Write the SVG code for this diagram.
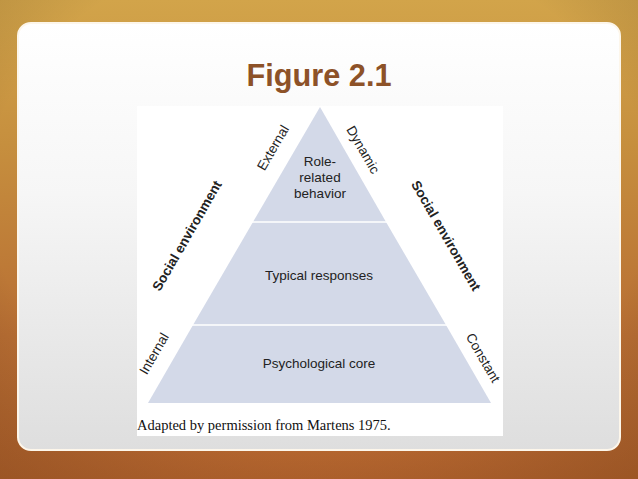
<svg xmlns="http://www.w3.org/2000/svg" width="638" height="479" viewBox="0 0 638 479">
<defs>
<linearGradient id="bg" x1="0" y1="0" x2="0" y2="1">
<stop offset="0" stop-color="#d2a44a"/>
<stop offset="0.3" stop-color="#c68f3e"/>
<stop offset="0.7" stop-color="#b86e33"/>
<stop offset="1" stop-color="#b6652e"/>
</linearGradient>
<radialGradient id="vig" cx="0.5" cy="0.4" r="0.8">
<stop offset="0.65" stop-color="#000" stop-opacity="0"/>
<stop offset="1" stop-color="#3a1a00" stop-opacity="0.22"/>
</radialGradient>
<linearGradient id="panel" x1="0" y1="0" x2="0" y2="1">
<stop offset="0" stop-color="#ffffff"/>
<stop offset="0.4" stop-color="#f6f6f6"/>
<stop offset="1" stop-color="#dedede"/>
</linearGradient>
<style>
.lbl{font-family:"Liberation Sans",Arial,sans-serif;font-size:13.5px;fill:#222;text-anchor:middle}
.bold{font-weight:bold}
.div{stroke:#ffffff;stroke-width:1.5}
</style>
</defs>
<rect width="638" height="479" fill="url(#bg)"/>
<rect width="638" height="479" fill="url(#vig)"/>
<rect x="18" y="23" width="602" height="427" rx="13" fill="url(#panel)" stroke="#fdf6ea" stroke-width="2"/>
<text x="319" y="86" font-family="Liberation Sans,Arial,sans-serif" font-size="32" font-weight="bold" fill="#8d5228" text-anchor="middle" textLength="145" lengthAdjust="spacingAndGlyphs">Figure 2.1</text>
<rect x="137" y="106" width="366" height="330" fill="#ffffff"/>
<g id="pyramid">
<g id="top"><polygon points="320,107 253,222 386,222" fill="#d3d9e8"/></g>
<g id="middle"><polygon points="253,222 386,222 446,325 193,325" fill="#d3d9e8"/></g>
<g id="bottom"><polygon points="193,325 446,325 491,403 148,403" fill="#d3d9e8"/></g>
</g>
<g id="connectors">
<line class="div" x1="252" y1="222" x2="387" y2="222"/>
<line class="div" x1="192" y1="325" x2="447" y2="325"/>
</g>
<g id="labels">
<text class="lbl" x="320" y="166">Role-</text>
<text class="lbl" x="320" y="182">related</text>
<text class="lbl" x="320" y="198">behavior</text>
<text class="lbl" x="319" y="280">Typical responses</text>
<text class="lbl" x="319" y="368">Psychological core</text>
<text class="lbl" transform="translate(277,150) rotate(-60)">External</text>
<text class="lbl" transform="translate(359,152) rotate(60)">Dynamic</text>
<text class="lbl" transform="translate(158,356) rotate(-60)">Internal</text>
<text class="lbl" transform="translate(479,360) rotate(60)">Constant</text>
<text class="lbl bold" transform="translate(191,238) rotate(-60)">Social environment</text>
<text class="lbl bold" transform="translate(442,238) rotate(60)">Social environment</text>
</g>
<text x="137" y="430" font-family="Liberation Serif,Times New Roman,serif" font-size="14.5" fill="#111">Adapted by permission from Martens 1975.</text>
</svg>
